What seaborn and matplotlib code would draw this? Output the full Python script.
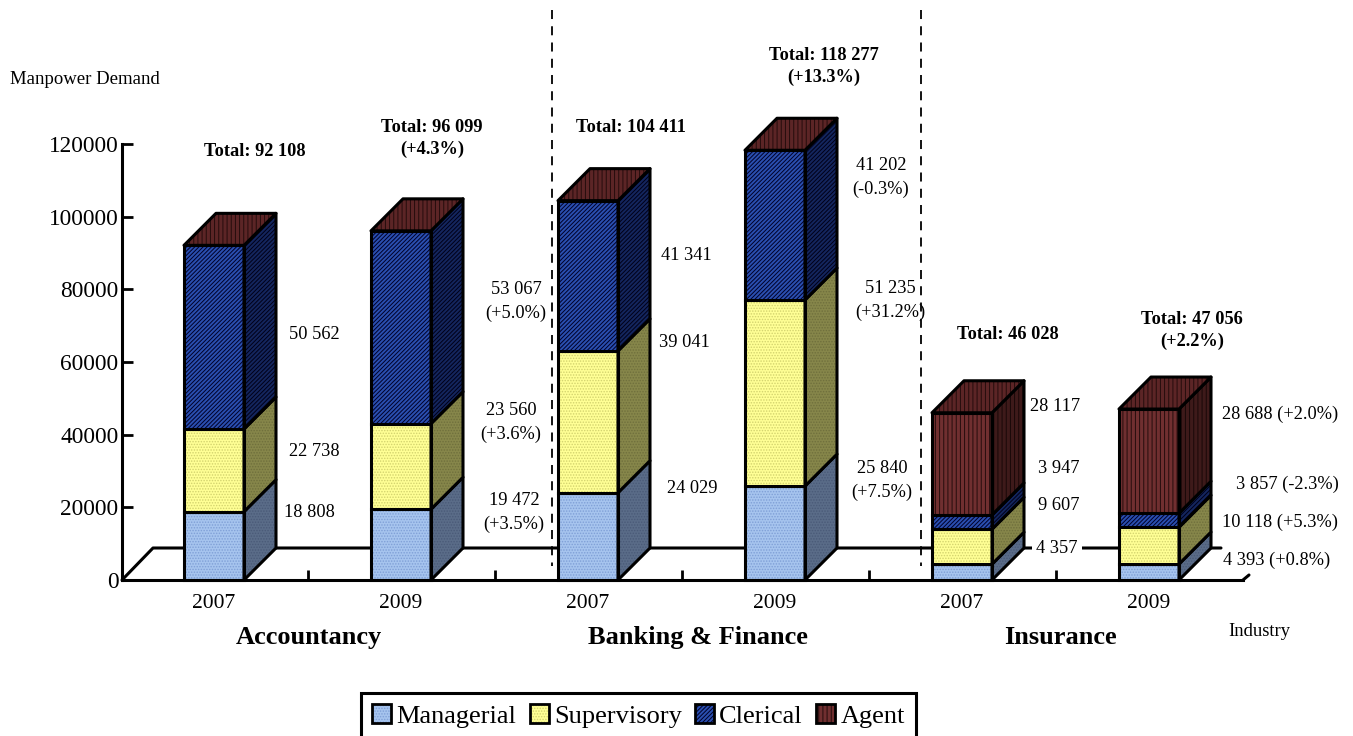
import matplotlib
matplotlib.use('Agg')
import matplotlib.pyplot as plt
import pandas as pd
import seaborn as sns
from matplotlib.legend_handler import HandlerTuple
from matplotlib.patches import Patch

# values
industry = ['Accountancy', 'Accountancy', 'Banking & Finance', 'Banking & Finance', 'Insurance', 'Insurance']
year = ['2007', '2009', '2007', '2009', '2007', '2009']
managerial = [18808, 19472, 24029, 25840, 4357, 4393]
supervisory = [22738, 23560, 39041, 51235, 9607, 10118]
clerical = [50562, 53067, 41341, 41202, 3947, 3857]
agent = [0, 0, 0, 0, 28117, 28688]
y_ticks = [0, 20000, 40000, 60000, 80000, 100000, 120000]

sns.set_style('white')
plt.rcParams['font.family'] = ['Liberation Serif', 'DejaVu Serif']
plt.rcParams['hatch.linewidth'] = 0.7

W, H = 1353, 736
fig = plt.figure(figsize=(W / 100, H / 100), dpi=100)
ax = fig.add_axes([122 / W, 1 - 580 / H, 1121 / W, 436 / H])

df = pd.DataFrame({'key': [i + ' ' + y for i, y in zip(industry, year)],
                   'Managerial': managerial, 'Supervisory': supervisory,
                   'Clerical': clerical, 'Agent': agent})

# front colour, front hatch colour, side colour, side hatch colour, hatch
styles = {
    'Managerial': ('#a6c4ee', '#7f9fd6', '#5a6c88', '#4a5a78', '......'),
    'Supervisory': ('#ffff95', '#d2d26e', '#86864a', '#6f6f3c', '......'),
    'Clerical': ('#2a4fb0', '#000028', '#14265e', '#000018', '////////'),
    'Agent': ('#702f30', '#240c0c', '#3e1a1a', '#180808', '||||'),
}


def to_x(px):
    # pixel column to category units, first bar centre is at 214 and they are 187 apart
    return (px - 214) / 187


px_y = 120000 / 436     # one pixel in data units
bar_w = 60 / 187
dx = 32 / 187
dy = 32 * px_y


def face(xs, ys, color, hatch, hc):
    # matplotlib ties the hatch colour to the edge, so fill and outline are separate
    ax.fill(xs, ys, facecolor=color, edgecolor=hc, linewidth=0, hatch=hatch, zorder=3, clip_on=False)
    ax.fill(xs, ys, facecolor='none', edgecolor='k', linewidth=2.2, joinstyle='round', zorder=3, clip_on=False)


# floor behind the bars
ax.plot([to_x(122), to_x(153), to_x(1221)], [0, dy, dy], color='k', lw=2.2, clip_on=False, zorder=1)
ax.plot([to_x(1243), to_x(1249)], [0, 5 * px_y], color='k', lw=2.2, clip_on=False, zorder=1)

bottom = [0] * 6
for name, (front, front_h, side, side_h, hatch) in styles.items():
    vals = df[name].tolist()
    sns.barplot(data=df, x='key', y=name, bottom=bottom, order=df['key'], ax=ax, width=bar_w,
                color=front, saturation=1, edgecolor=front_h, linewidth=0, hatch=hatch,
                errorbar=None, zorder=3, clip_on=False)
    for i in range(6):
        if vals[i] == 0:
            continue
        r = i + bar_w / 2
        face([r, r + dx, r + dx, r],
             [bottom[i], bottom[i] + dy, bottom[i] + vals[i] + dy, bottom[i] + vals[i]],
             side, hatch, side_h)
    sns.barplot(data=df, x='key', y=name, bottom=bottom, order=df['key'], ax=ax, width=bar_w,
                color='k', fill=False, linewidth=2.2, errorbar=None, zorder=3, clip_on=False)
    bottom = [b + v for b, v in zip(bottom, vals)]

# lid on each bar
for i in range(6):
    l, r = i - bar_w / 2, i + bar_w / 2
    t = bottom[i]
    face([l, r, r + dx, l + dx], [t, t, t + dy, t + dy], '#5c2526', '||||', '#240c0c')

ax.set_xlim(to_x(122), to_x(1243))
ax.set_ylim(0, 120000)
ax.set_xlabel('')
ax.set_ylabel('')
sns.despine(ax=ax)
for s in ['left', 'bottom']:
    ax.spines[s].set_linewidth(2.2)
    ax.spines[s].set_color('k')
    ax.spines[s].set_zorder(4)

ax.set_yticks(y_ticks)
ax.tick_params(axis='y', direction='in', length=8, width=2, color='k', left=True, pad=2.5, labelsize=16.8, labelcolor='k')
ax.set_xticks(range(6))
ax.set_xticklabels(year)
ax.tick_params(axis='x', length=0, pad=10, labelsize=15.5, labelcolor='k')
ax.set_xticks([0.5, 1.5, 2.5, 3.5, 4.5], minor=True)
ax.tick_params(axis='x', which='minor', direction='in', length=7, width=2, color='k', bottom=True)


def label(x, y, s, spacing=1.45, **kw):
    kw.setdefault('fontsize', 13.2)
    fig.text(x / W, 1 - (y + 1.5) / H, s, ha='center', va='center', linespacing=spacing, color='k', zorder=6, **kw)


totals = [(255, 150, 'Total: 92 108'), (432, 137, 'Total: 96 099\n(+4.3%)'),
          (631, 126, 'Total: 104 411'), (824, 65, 'Total: 118 277\n(+13.3%)'),
          (1008, 333, 'Total: 46 028'), (1192, 329, 'Total: 47 056\n(+2.2%)')]
for x, y, s in totals:
    label(x, y, s, spacing=1.32, fontweight='bold')

values = [(314, 333, '50 562'), (314, 450, '22 738'), (309, 511, '18 808'),
          (516, 300, '53 067\n(+5.0%)'), (511, 421, '23 560\n(+3.6%)'), (514, 511, '19 472\n(+3.5%)'),
          (686, 254, '41 341'), (684, 341, '39 041'), (692, 487, '24 029'),
          (881, 176, '41 202\n(-0.3%)'), (890, 299, '51 235\n(+31.2%)'), (882, 479, '25 840\n(+7.5%)'),
          (1055, 405, '28 117'), (1059, 467, '3 947'), (1059, 504, '9 607'),
          (1280, 413, '28 688 (+2.0%)'), (1287, 483, '3 857 (-2.3%)'),
          (1280, 521, '10 118 (+5.3%)'), (1277, 559, '4 393 (+0.8%)')]
for x, y, s in values:
    label(x, y, s)
label(1057, 547, '4 357', bbox=dict(facecolor='white', edgecolor='none', pad=3))

label(85, 78, 'Manpower Demand', fontsize=13.5)
label(1259, 630, 'Industry', fontsize=13.4)
for x, s in [(309, 'Accountancy'), (698, 'Banking & Finance'), (1060, 'Insurance')]:
    label(x, 636, s, fontsize=19, fontweight='bold')

# dashed separators between industries
for x in [552, 921]:
    fig.add_artist(plt.Line2D([x / W, x / W], [1 - 10 / H, 1 - 566 / H], color='k', lw=1.3, ls=(0, (5, 4)), zorder=5))

# hatched swatch with a black outline laid over it
handles = [(Patch(facecolor=v[0], edgecolor=v[1], linewidth=0, hatch=v[4]),
            Patch(facecolor='none', edgecolor='k', linewidth=2)) for v in styles.values()]
leg = fig.legend(handles, list(styles), handler_map={tuple: HandlerTuple(ndivide=1, pad=0)},
                 loc='upper left', bbox_to_anchor=(361 / W, 1 - 693 / H), ncols=4, fontsize=19, labelcolor='k',
                 frameon=True, fancybox=False, framealpha=1, edgecolor='k', handlelength=0.72, handleheight=0.72,
                 handletextpad=0.2, columnspacing=0.5, borderpad=0.43, borderaxespad=0)
leg.get_frame().set_linewidth(2.2)

fig.savefig('out.png', dpi=100, facecolor='white')
